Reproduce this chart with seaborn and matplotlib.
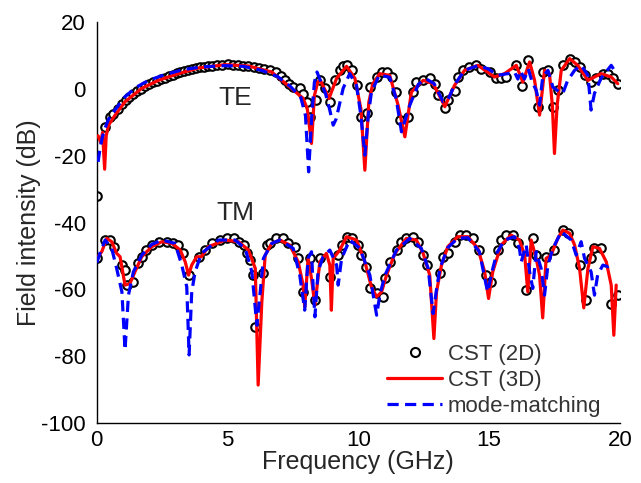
import matplotlib
matplotlib.use("Agg")
import matplotlib.pyplot as plt
import seaborn as sns
import pandas as pd
from matplotlib.lines import Line2D

# ---------------- data ----------------
te_red_f = [0.05, 0.15, 0.22, 0.3, 0.36, 0.45, 0.7, 1.08, 1.72, 2.36, 3.12, 3.89, 4.91, 5.8, 6.69,
            7.38, 7.89, 8.05, 8.21, 8.32, 8.45, 8.55, 8.88, 9.17, 9.55, 9.87, 10.1, 10.25, 10.4, 10.55,
            10.82, 11.2, 11.52, 11.78, 12.03, 12.48, 12.86, 13.1, 13.31, 13.42, 13.68, 14.06, 14.57,
            15.21, 15.59, 16.04, 16.29, 16.55, 16.74, 16.93, 17.12, 17.31, 17.42, 17.5, 17.6, 17.76,
            18.08, 18.39, 18.78, 19.28, 19.67, 19.92]
te_red_db = [-14, -16, -13, -24, -14, -10.8, -7.8, -3.8, 0.2, 2.6, 4.6, 6.3, 7.3, 6.9, 5.1,
             0.6, -2.8, -6, -16.3, -2, 2.1, 2.6, -2.8, 3.2, 6.8, 3.2, -6, -24.3, -4, 1.5,
             4.6, 4.1, -4.8, -14.3, -0.9, 2.6, 1.6, -2, -5.3, -3.3, 1.1, 5.6, 7.1,
             3.6, 4.6, 7.1, 2.1, 8.1, 2.6, -7.8, 5.6, 4.6, -5, -19.3, -5, 5.6,
             9.1, 7.1, 2.6, 4.6, 3.6, 1.6]

te_blue_f = [0.05, 0.12, 0.2, 0.3, 0.45, 0.7, 1.08, 1.5, 1.98, 2.6, 3.3, 4.0, 4.9, 5.6, 6.3, 6.9,
             7.4, 7.8, 7.98, 8.1, 8.22, 8.32, 8.42, 8.55, 8.75, 8.9, 9.04, 9.15, 9.23, 9.42, 9.67,
             9.93, 10.1, 10.25, 10.38, 10.5, 10.8, 11.2, 11.45, 11.65, 11.8, 11.97, 12.3, 12.6,
             12.9, 13.24, 13.42, 13.7, 14.06, 14.57, 14.95, 15.33, 15.7, 15.97, 16.1, 16.2, 16.35,
             16.5, 16.65, 16.8, 16.93, 17.05, 17.25, 17.44, 17.69, 17.82, 18.0, 18.27, 18.52,
             18.78, 18.9, 19.03, 19.28, 19.67, 19.79, 19.9]
te_blue_db = [-21.8, -18, -14.8, -12, -9, -6.2, -2.3, 0.5, 2.6, 4.3, 5.8, 6.6, 7.0, 6.8, 5.6, 3.8,
              0.8, -2.5, -8, -24.8, -8, 2, 5.1, 2.5, -1.5, -6, -10.8, -9, -6.3, 0.2, 4.6,
              1.1, -8, -19.8, -8, -1, 4.2, 3.5, -3, -12.8, -9, -4.8, 1.5, 3,
              1.6, -3.8, -3.3, 1.5, 5.6, 7.0, 6.1, 4.1, 4.6, 5.1, 3, 5.5, 3,
              6, 2, -0.3, -4.8, 3.6, 5.6, 0.6, -0.9, -1.3, 2.5, 5.6, 7.1,
              4.1, -6.3, -1.3, 3.2, 7.1, 5.6, 4.5]

te_circ_f = [0.0, 0.32, 0.5, 0.62, 0.8, 0.95, 1.1, 1.25, 1.4, 1.55, 1.7, 1.85, 2.0, 2.15, 2.3, 2.45,
             2.6, 2.75, 2.9, 3.05, 3.2, 3.35, 3.5, 3.65, 3.8, 3.95, 4.1, 4.25, 4.4, 4.6, 4.8, 5.0,
             5.2, 5.4, 5.6, 5.8, 6.0, 6.2, 6.4, 6.62, 6.87, 7.03, 7.19, 7.35, 7.51, 7.76, 7.9, 8.02,
             8.15, 8.4, 8.53, 8.72, 8.91, 9.1, 9.29, 9.42, 9.55, 9.74, 9.96, 10.12, 10.34, 10.44,
             10.7, 10.89, 11.08, 11.27, 11.43, 11.59, 11.9, 12.1, 12.22, 12.48, 12.73, 12.93, 13.05,
             13.31, 13.42, 13.68, 13.8, 14.0, 14.25, 14.5, 14.7, 15.02, 15.27, 15.46, 15.65, 16.04,
             16.27, 16.48, 16.86, 17.05, 17.25, 17.44, 17.63, 17.82, 18.08, 18.27, 18.46, 18.65,
             18.9, 19.09, 19.35, 19.54, 19.73, 19.92]
te_circ_db = [-32, -11.3, -8.5, -7.6, -6.0, -4.6, -3.4, -2.4, -1.5, -0.6, 0.1, 0.8, 1.4, 2.0, 2.5, 3.0,
              3.4, 3.9, 4.3, 4.7, 5.0, 5.4, 5.7, 6.0, 6.3, 6.5, 6.7, 6.9, 7.0, 7.2, 7.3, 7.4,
              7.3, 7.2, 7.0, 6.8, 6.6, 6.3, 5.9, 5.6, 5.1, 4.0, 2.6, 1.5, 0.6, 0.2, -1.5, -3.8,
              -8.3, -3.3, 2.6, 0.2, -3.8, 2.6, 5.6, 6.8, 7.1, 5.6, 1.1, -8.3, -7.3, 0.6,
              3.6, 5.1, 5.1, 3.6, -0.9, -9.3, -8.3, -0.9, 2.1, 2.6, 3.2, 1.6, -1.8,
              -5.8, -3.3, -0.6, 3.6, 5.6, 6.6, 7.1, 6.1, 5.1, 3.2, 3.2, 3.6, 7.1,
              1.0, 8.6, -5.3, 5.1, 5.6, -5.3, -0.3, 7.1, 9.1, 8.1, 6.6, 4.1,
              2.1, 3.2, 4.6, 4.6, 3.2, 1.6]

tm_red_f = [0.0, 0.19, 0.38, 0.57, 0.76, 0.89, 1.08, 1.27, 1.46, 1.72, 2.1, 2.49, 2.87, 3.19, 3.38,
            3.51, 3.63, 3.82, 4.0, 4.27, 4.91, 5.42, 5.8, 6.06, 6.17, 6.31, 6.44, 6.69, 7.0, 7.38,
            7.7, 7.89, 7.95, 8.08, 8.21, 8.34, 8.53, 8.78, 8.91, 8.97, 9.04, 9.29, 9.55, 9.93,
            10.25, 10.5, 10.7, 10.89, 11.08, 11.4, 11.84, 12.22, 12.48, 12.73, 12.89, 12.99, 13.18,
            13.42, 13.8, 14.19, 14.57, 14.83, 14.98, 15.14, 15.46, 15.84, 16.16, 16.36, 16.48,
            16.61, 16.8, 16.93, 17.05, 17.18, 17.37, 17.63, 17.82, 18.08, 18.27, 18.46, 18.62,
            18.78, 18.97, 19.22, 19.48, 19.67, 19.77, 19.86]
tm_red_db = [-50.7, -48.7, -44.7, -45.7, -49.2, -50.2, -58.7, -58.2, -54.7, -50.2, -47.2, -45.7, -46.2, -48.2, -51.7,
             -55.7, -52.7, -50.2, -50.2, -47.2, -45.2, -45.7, -48.2, -53.7, -88.6, -63.7, -49.7, -46.2, -45.2, -46.7,
             -51.7, -58.7, -65.2, -50.7, -56.7, -64.7, -51.7, -49.2, -52.7, -66.2, -50.7, -48.2, -44.2, -45.2,
             -51.7, -59.2, -62.2, -60.7, -55.7, -49.2, -44.7, -45.2, -49.2, -55.7, -74.7, -60.7, -52.7,
             -47.2, -44.2, -44.2, -47.7, -54.7, -62.7, -54.7, -46.7, -43.7, -45.2, -49.7, -60.7,
             -45.2, -50.7, -55.7, -68.5, -50.7, -49.7, -44.7, -42.2, -43.2, -46.7, -53.7, -65.5,
             -53.7, -47.2, -47.7, -51.7, -58.7, -73.7, -58.7]

tm_blue_f = [0.0, 0.15, 0.32, 0.57, 0.76, 0.96, 1.08, 1.21, 1.4, 1.72, 2.1, 2.49, 2.99, 3.25, 3.44,
             3.53, 3.63, 3.76, 4.0, 4.65, 5.29, 5.67, 5.93, 6.12, 6.25, 6.37, 6.69, 7.0, 7.51, 7.76,
             7.95, 8.08, 8.21, 8.27, 8.34, 8.46, 8.65, 8.91, 9.17, 9.23, 9.36, 9.67, 10.06, 10.44,
             10.7, 10.82, 11.02, 11.46, 11.97, 12.41, 12.67, 12.86, 12.99, 13.12, 13.42, 13.8, 14.19,
             14.63, 14.89, 14.95, 15.1, 15.3, 15.59, 15.97, 16.16, 16.23, 16.42, 16.55, 16.67, 16.8,
             16.99, 17.12, 17.25, 17.44, 17.76, 18.14, 18.33, 18.52, 18.65, 18.9, 19.03, 19.15,
             19.35, 19.54, 19.79]
tm_blue_db = [-52, -48.5, -45.2, -47.7, -53.7, -60.7, -78.1, -61.7, -54.7, -49.7, -46.5, -45.2, -46.2, -52.7, -59.2,
              -79.6, -60.7, -54.7, -49.2, -45.2, -45.2, -47.7, -54.7, -70.7, -60.7, -50.7, -46.2, -45.2, -47.7, -55.7,
              -66.2, -50.7, -48.7, -58.7, -68.2, -54.7, -50.2, -48.2, -52.7, -58.7, -50.7, -45.2, -47.7, -55.7,
              -67.7, -61.7, -55.7, -48.2, -44.7, -47.7, -53.7, -67.2, -60, -53.7, -47.5, -44.7, -44.5,
              -48.7, -58.7, -60.7, -55, -49, -45.2, -44.2, -47.7, -51.7, -46.7, -54.7, -59.7, -48.7,
              -53.7, -61.7, -52.7, -47.7, -42.7, -45.2, -49.7, -45.7, -50.7, -54.7, -61.7, -55.7,
              -52.7, -53.2, -52.2]

tm_circ_f = [0.0, 0.32, 0.51, 0.64, 0.96, 1.08, 1.15, 1.4, 1.59, 1.72, 1.9, 2.1, 2.36, 2.68, 2.93, 3.12,
             3.31, 3.51, 3.89, 4.14, 4.4, 4.72, 4.97, 5.23, 5.42, 5.61, 5.74, 5.86, 5.99, 6.06, 6.37,
             6.5, 6.62, 6.87, 7.12, 7.32, 7.57, 7.7, 7.89, 8.15, 8.34, 8.53, 8.91, 9.23, 9.36, 9.55,
             9.74, 9.99, 10.12, 10.31, 10.44, 10.7, 10.95, 11.01, 11.2, 11.46, 11.65, 11.84, 12.1,
             12.29, 12.48, 12.61, 13.12, 13.24, 13.42, 13.68, 13.87, 14.12, 14.38, 14.63, 14.89,
             15.08, 15.33, 15.46, 15.65, 15.91, 16.1, 16.42, 16.67, 16.8, 17.18, 17.5, 17.82, 18.01,
             18.46, 18.71, 18.9, 19.03, 19.28, 19.67, 19.92]
tm_circ_db = [-50.7, -45.2, -45.2, -47.2, -52.7, -54.2, -58.7, -57.7, -52.2, -50.2, -48.2, -46.7, -45.7, -45.7, -46.2, -46.7,
              -49.2, -55.7, -50.2, -48.2, -46.2, -45.2, -44.7, -44.7, -45.7, -46.7, -49.2, -51.2, -55.7, -71.2, -55.2,
              -46.7, -46, -44.7, -44.7, -46.2, -47.2, -50.7, -60.7, -50.7, -63.2, -50.7, -56.2, -49.7, -46.7, -44.2,
              -44.7, -46.7, -49.7, -53.2, -59.7, -61.2, -62.2, -56.7, -51.7, -48.2, -45.7, -44.7, -44.2,
              -45.7, -49.7, -52.7, -55.2, -50.2, -49.2, -45.7, -43.7, -43.7, -44.7, -48.2, -55.7,
              -57.7, -48.2, -45.2, -43.7, -43.7, -46.2, -60.2, -44.7, -49.7, -50.2, -48.2, -42.2, -43.2,
              -52.7, -63.2, -50.7, -47.7, -47.7, -64.2, -61.7]

x_ticks = [0, 5, 10, 15, 20]
y_ticks = [-100, -80, -60, -40, -20, 0, 20]
legend_labels = ["CST (2D)", "CST (3D)", "mode-matching"]

# ---------------- style ----------------
sns.set_style("white")
plt.rcParams["font.family"] = ["Liberation Sans", "DejaVu Sans"]
plt.rcParams["axes.unicode_minus"] = False

fig = plt.figure(figsize=(6.41, 4.83), dpi=100)
ax = fig.add_axes([0.151, 0.124, 0.816, 0.830])

circ_kw = dict(marker="o", s=38, facecolor="white", edgecolor="black", linewidth=1.5, zorder=2, legend=False)
red_kw = dict(color="#ff0000", linewidth=2.3, zorder=3, estimator=None, sort=False, legend=False)
blue_kw = dict(color="#0000ff", linewidth=2.3, linestyle=(0, (3.5, 2)), zorder=4, estimator=None, sort=False, legend=False)

for cf, cd in [(te_circ_f, te_circ_db), (tm_circ_f, tm_circ_db)]:
    sns.scatterplot(x=cf, y=cd, ax=ax, **circ_kw)
for rf, rd in [(te_red_f, te_red_db), (tm_red_f, tm_red_db)]:
    sns.lineplot(x=rf, y=rd, ax=ax, **red_kw)
for bf, bd in [(te_blue_f, te_blue_db), (tm_blue_f, tm_blue_db)]:
    sns.lineplot(x=bf, y=bd, ax=ax, **blue_kw)

ax.set_xlim(0, 20)
ax.set_ylim(-100, 20)
ax.set_xticks(x_ticks)
ax.set_yticks(y_ticks)
ax.tick_params(direction="in", length=5, width=1, labelsize=16, colors="black")
ax.tick_params(axis="y", pad=8)
ax.tick_params(axis="x", pad=5)
for s in ["top", "right"]:
    ax.spines[s].set_visible(False)
for s in ["left", "bottom"]:
    ax.spines[s].set_color("black")
    ax.spines[s].set_linewidth(1)
ax.set_xlabel("Frequency (GHz)", fontsize=18, labelpad=-1)
ax.set_ylabel("Field intensity (dB)", fontsize=18, labelpad=0)

ax.text(5.28, -2.7, "TE", fontsize=19, ha="center", va="center")
ax.text(5.28, -37.2, "TM", fontsize=19, ha="center", va="center")

handles = [
    Line2D([], [], marker="o", linestyle="none", markersize=6.5, markerfacecolor="white",
           markeredgecolor="black", markeredgewidth=1.5),
    Line2D([], [], color="#ff0000", linewidth=2.3),
    Line2D([], [], color="#0000ff", linewidth=2.3, linestyle=(0, (3.5, 2))),
]
leg = ax.legend(handles, legend_labels, loc="upper left", bbox_to_anchor=(0.5545, 0.197),
                frameon=False, fontsize=16, handlelength=2.5, handletextpad=0.25,
                labelspacing=0.22, borderpad=0, borderaxespad=0)
for t in leg.get_texts():
    t.set_color("#333333")

fig.savefig("out.png", dpi=100, facecolor="white")
